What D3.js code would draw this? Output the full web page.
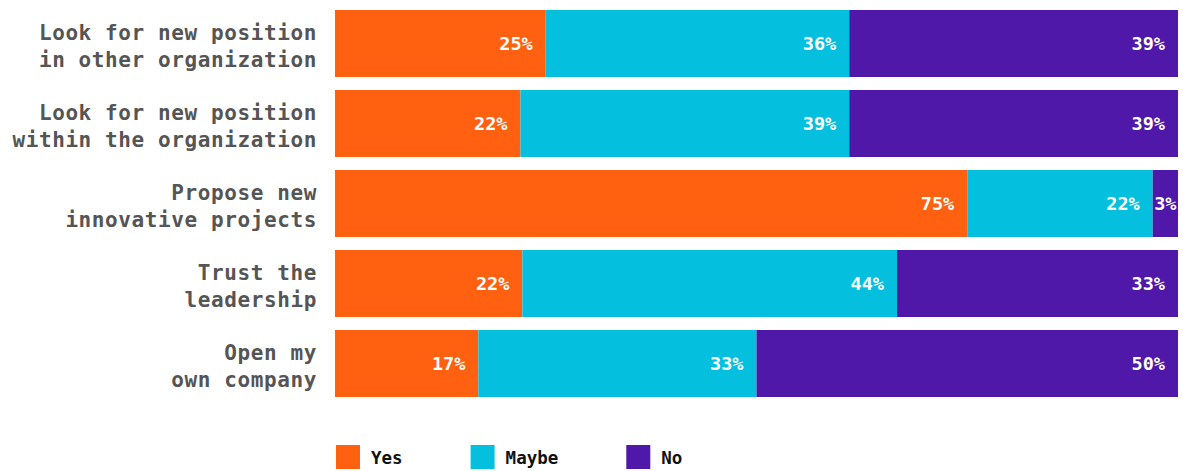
<!DOCTYPE html>
<html>
<head>
<meta charset="utf-8">
<script src="https://cdn.jsdelivr.net/npm/d3@7"></script>
<style>
  body { margin: 0; background: #fff; }
  svg { display: block; }
  .cat { font-family: "DejaVu Sans Mono", monospace; font-weight: bold; font-size: 21px; letter-spacing: 0.6px; fill: #555; }
  .val { font-family: "DejaVu Sans Mono", monospace; font-weight: bold; font-size: 18.5px; fill: #fff; }
  .leg { font-family: "DejaVu Sans Mono", monospace; font-weight: bold; font-size: 17.5px; fill: #111; }
</style>
</head>
<body>
<div id="chart"></div>
<script>
// stacked answers per question

const categories = [
    ["Look for new position", "in other organization"],
    ["Look for new position", "within the organization"],
    ["Propose new", "innovative projects"],
    ["Trust the", "leadership"],
    ["Open my", "own company"]
];
const answers = ["Yes", "Maybe", "No"];
const yes = [25, 22, 75, 22, 17];
const maybe = [36, 39, 22, 44, 33];
const no = [39, 39, 3, 33, 50];

let width = 1183,
    height = 471,
    margin = ({ top: 10, right: 5, bottom: 60, left: 335 });

const colors = ["#ff6111", "#05bfdf", "#4f18a8"];

const data = categories.map((c, i) => ({ key: i, lines: c, Yes: yes[i], Maybe: maybe[i], No: no[i] }));

const svg = d3.select("#chart")
    .append("svg")
    .attr("width", width)
    .attr("height", height);

const series = d3.stack()
    .keys(answers)
    .offset(d3.stackOffsetExpand)(data);

let x = d3.scaleLinear()
    .domain([0, 1])
    .range([margin.left, width - margin.right]);

let y = d3.scaleBand()
    .domain(data.map(d => d.key))
    .range([3.5, 403.5])
    .paddingInner(13 / 80)
    .paddingOuter(13 / 160);

const color = d3.scaleOrdinal(answers, colors);

const layer = svg.append("g")
    .selectAll("g")
    .data(series)
    .join("g")
    .attr("fill", s => color(s.key));

layer.selectAll("rect")
    .data(s => s)
    .join("rect")
    .attr("x", d => x(d[0]))
    .attr("y", d => y(d.data.key))
    .attr("width", d => x(d[1]) - x(d[0]))
    .attr("height", y.bandwidth());

// value labels, right aligned inside each piece
layer.each(function(s) {
    d3.select(this).selectAll("text")
        .data(s)
        .join("text")
        .attr("class", "val")
        .attr("text-anchor", d => (x(d[1]) - x(d[0]) < 45) ? "middle" : "end")
        .attr("x", d => (x(d[1]) - x(d[0]) < 45) ? (x(d[0]) + x(d[1])) / 2 : x(d[1]) - 13)
        .attr("y", d => y(d.data.key) + y.bandwidth() / 2)
        .attr("dy", "0.36em")
        .text(d => d.data[s.key] + "%");
});

// category labels
const cat = svg.append("g")
    .selectAll("text")
    .data(data)
    .join("text")
    .attr("class", "cat")
    .attr("text-anchor", "end")
    .attr("x", margin.left - 18)
    .attr("y", d => y(d.key) + y.bandwidth() / 2 - 4);

cat.selectAll("tspan")
    .data(d => d.lines)
    .join("tspan")
    .attr("x", margin.left - 18)
    .attr("dy", (d, i) => i === 0 ? 0 : 27)
    .text(d => d);

// legend
const legend = svg.append("g")
    .attr("transform", `translate(${margin.left + 1},445)`);

let lx = 0;
answers.forEach(a => {
    const g = legend.append("g").attr("transform", `translate(${lx},0)`);
    g.append("rect")
        .attr("width", 24)
        .attr("height", 24)
        .attr("fill", color(a));
    const t = g.append("text")
        .attr("class", "leg")
        .attr("x", 35)
        .attr("y", 19)
        .text(a);
    lx += 35 + t.node().getComputedTextLength() + 68;
});
</script>
</body>
</html>
